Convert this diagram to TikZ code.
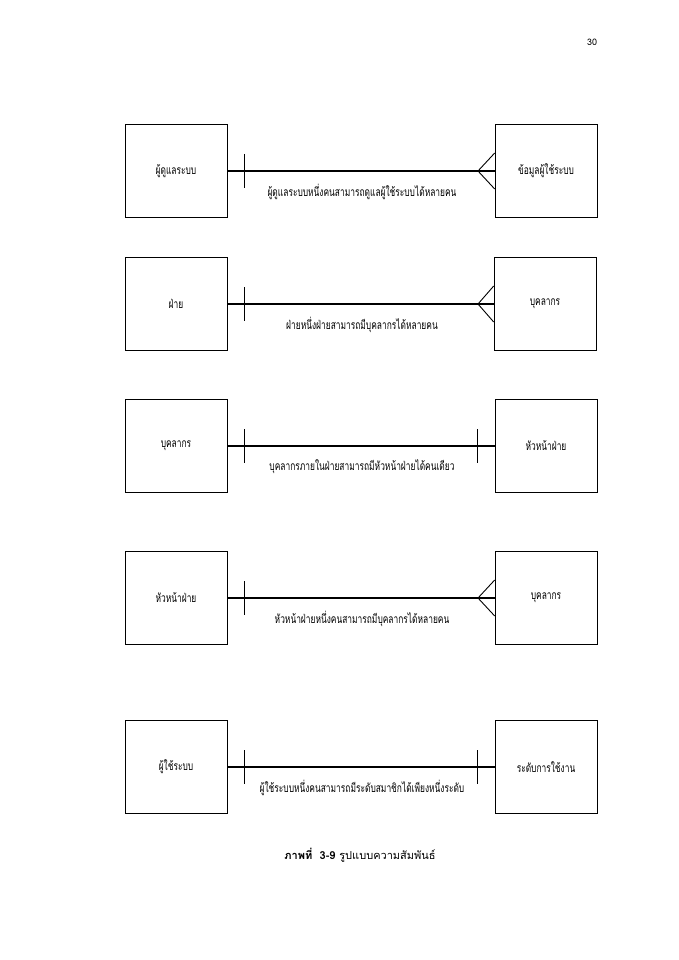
\documentclass[tikz,border=0pt]{standalone}
\usepackage{fontspec}
\usetikzlibrary{calc}
\newfontfamily\thaifont[Script=Thai]{Loma}
\begin{document}
\begin{tikzpicture}[x=1pt,y=-1pt,
  ent/.style={draw,line width=0.6pt,minimum width=102pt,minimum height=93pt,inner sep=0pt,font=\thaifont\fontsize{12}{14}\selectfont},
  rel/.style={line width=1.6pt},
  tick/.style={line width=0.9pt},
  lbl/.style={font=\thaifont\fontsize{12}{14}\selectfont}]
\useasboundingbox (0,0) rectangle (679,960);
\node[font=\thaifont\fontsize{9}{11}\selectfont] (pg) at (592,42) {30};
\newcommand{\relrow}[7]{%
  \node[ent] (#1L) at (176,#2) {\scalebox{0.7}[1]{#3}};
  \node[ent] (#1R) at (#7,#2) {\scalebox{0.7}[1]{#4}};
  \draw[rel] (#1L.east) -- (#1R.west);
  \draw[tick] (244,#2-17) -- (244,#2+17);
  \ifnum#6=1
    \draw[tick] ($(#1R.west)+(0,-18)$) -- (478,#2) -- ($(#1R.west)+(0,18)$);
  \else
    \draw[tick] (477,#2-17) -- (477,#2+17);
  \fi
  \node[lbl] (#1T) at (362,#2+21) {\scalebox{0.7}[1]{#5}};
}
\relrow{a}{171}{ผู้ดูแลระบบ}{ข้อมูลผู้ใช้ระบบ}{ผู้ดูแลระบบหนึ่งคนสามารถดูแลผู้ใช้ระบบได้หลายคน}{1}{546}
\relrow{b}{304}{ฝ่าย}{บุคลากร}{ฝ่ายหนึ่งฝ่ายสามารถมีบุคลากรได้หลายคน}{1}{545}
\relrow{c}{446}{บุคลากร}{หัวหน้าฝ่าย}{บุคลากรภายในฝ่ายสามารถมีหัวหน้าฝ่ายได้คนเดียว}{0}{546}
\relrow{d}{598}{หัวหน้าฝ่าย}{บุคลากร}{หัวหน้าฝ่ายหนึ่งคนสามารถมีบุคลากรได้หลายคน}{1}{546}
\relrow{e}{767}{ผู้ใช้ระบบ}{ระดับการใช้งาน}{ผู้ใช้ระบบหนึ่งคนสามารถมีระดับสมาชิกได้เพียงหนึ่งระดับ}{0}{546}
\node[font=\thaifont\fontsize{11}{13}\selectfont] (cap) at (360,855) {\textbf{ภาพที่~~3-9} รูปแบบความสัมพันธ์};
\end{tikzpicture}
\end{document}
